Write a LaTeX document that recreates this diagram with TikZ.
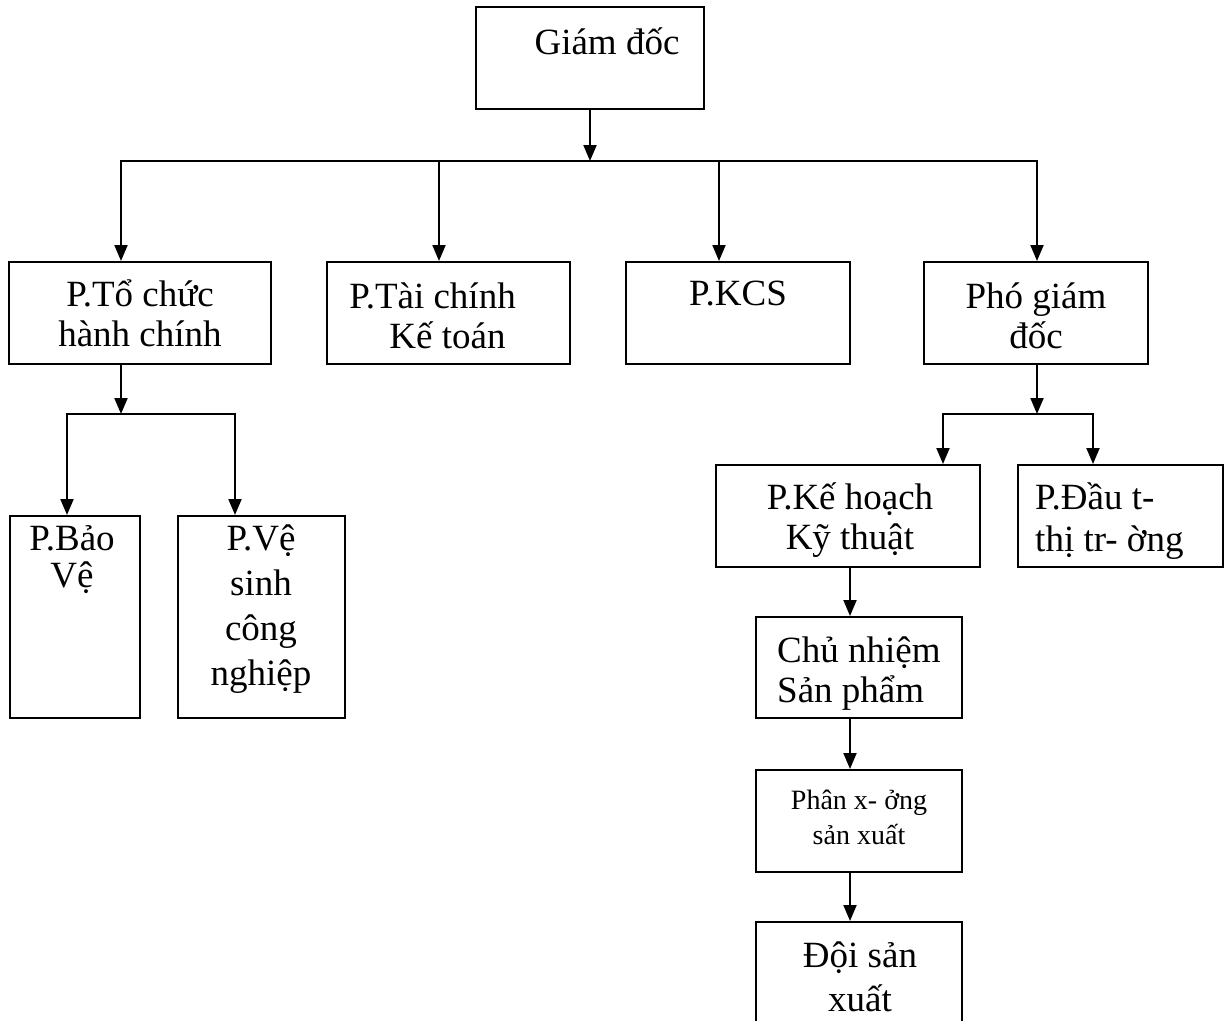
\documentclass[tikz,border=0pt]{standalone}
\usepackage{fontspec}
\setmainfont{Liberation Serif}
\usetikzlibrary{arrows.meta,positioning,calc}

\begin{document}
\begin{tikzpicture}[
  x=1pt, y=-1pt,
  box/.style={draw, line width=2pt, inner sep=0pt},
  lbl/.style={anchor=north, inner sep=0pt, align=center,
    font=\fontsize{37}{40}\selectfont, execute at begin node=\rule{0pt}{1em}},
  small/.style={font=\fontsize{28}{35}\selectfont},
  arr/.style={-{Triangle[length=16pt, width=13pt]}, line width=2pt},
  ln/.style={line width=2pt}
]
\useasboundingbox (0,0) rectangle (1225,1020);

% top
\node[box, minimum width=228pt, minimum height=102pt] (gd) at (590,58) {};
\node[lbl] (gd-t) at (607,17) {Giám đốc};

% first row
\node[box, minimum width=262pt, minimum height=102pt] (tc)   at (140,313)   {};
\node[box, minimum width=243pt, minimum height=102pt] (tckt) at (448.5,313) {};
\node[box, minimum width=224pt, minimum height=102pt] (kcs)  at (738,313)   {};
\node[box, minimum width=224pt, minimum height=102pt] (pgd)  at (1036,313)  {};
\node[lbl] (tc-t)   at (140,279)   {P.Tổ chức\\hành chính};
\node[lbl] (tckt-t) at (447.5,283) {P.Tài chính\hspace*{30pt}\\Kế toán};
\node[lbl] (kcs-t)  at (738,268)   {P.KCS};
\node[lbl] (pgd-t)  at (1036,283)  {Phó giám\\đốc};

% left branch
\node[box, minimum width=130pt, minimum height=202pt] (bv) at (75,617)    {};
\node[box, minimum width=167pt, minimum height=202pt] (vs) at (261.5,617) {};
\node[lbl, font=\fontsize{37}{37}\selectfont] (bv-t) at (72,525)  {P.Bảo\\Vệ};
\node[lbl, font=\fontsize{37}{45}\selectfont] (vs-t) at (261,525) {P.Vệ\\sinh\\công\\nghiệp};

% right branch
\node[box, minimum width=264pt, minimum height=102pt] (khkt) at (848,516)    {};
\node[box, minimum width=205pt, minimum height=102pt] (dt)   at (1120.5,516) {};
\node[lbl] (khkt-t) at (850,482) {P.Kế hoạch\\Kỹ thuật};
\node[lbl, anchor=north west, align=left, font=\fontsize{37}{42}\selectfont] (dt-t) at (1035,482) {P.Đầu t-\\thị tr- ờng};

\node[box, minimum width=206pt, minimum height=101pt] (cn)  at (859,667.5) {};
\node[box, minimum width=206pt, minimum height=102pt] (px)  at (859,821)   {};
\node[box, minimum width=206pt, minimum height=108pt] (doi) at (859,976)   {};
\node[lbl, anchor=north west, align=left] (cn-t) at (777,637) {Chủ nhiệm\\Sản phẩm};
\node[lbl, small] (px-t)  at (859,790) {Phân x- ởng\\sản xuất};
\node[lbl, font=\fontsize{37}{44}\selectfont] (doi-t) at (860,942) {Đội sản\\xuất};

% connectors
\coordinate (b0) at (590,161);
\coordinate (b1) at (121,161);
\coordinate (b2) at (439,161);
\coordinate (b3) at (719,161);
\coordinate (b4) at (1037,161);
\draw[arr] (gd.south) -- (b0);
\draw[arr] (b0) -- (b1) -- (b1 |- tc.north);
\draw[arr] (b0) -- (b4) -- (b4 |- pgd.north);
\draw[arr] (b2) -- (b2 |- tckt.north);
\draw[arr] (b3) -- (b3 |- kcs.north);

\coordinate (c0) at (121,414);
\coordinate (c1) at (67,414);
\coordinate (c2) at (235,414);
\draw[arr] (c0 |- tc.south) -- (c0);
\draw[arr] (c0) -- (c1) -- (c1 |- bv.north);
\draw[arr] (c0) -- (c2) -- (c2 |- vs.north);

\coordinate (d0) at (1037,414);
\coordinate (d1) at (943,414);
\coordinate (d2) at (1093,414);
\draw[arr] (d0 |- pgd.south) -- (d0);
\draw[arr] (d0) -- (d1) -- (d1 |- khkt.north);
\draw[arr] (d0) -- (d2) -- (d2 |- dt.north);

\coordinate (e0) at (850,0);
\draw[arr] (e0 |- khkt.south) -- (e0 |- cn.north);
\draw[arr] (e0 |- cn.south) -- (e0 |- px.north);
\draw[arr] (e0 |- px.south) -- (e0 |- doi.north);
\end{tikzpicture}
\end{document}
